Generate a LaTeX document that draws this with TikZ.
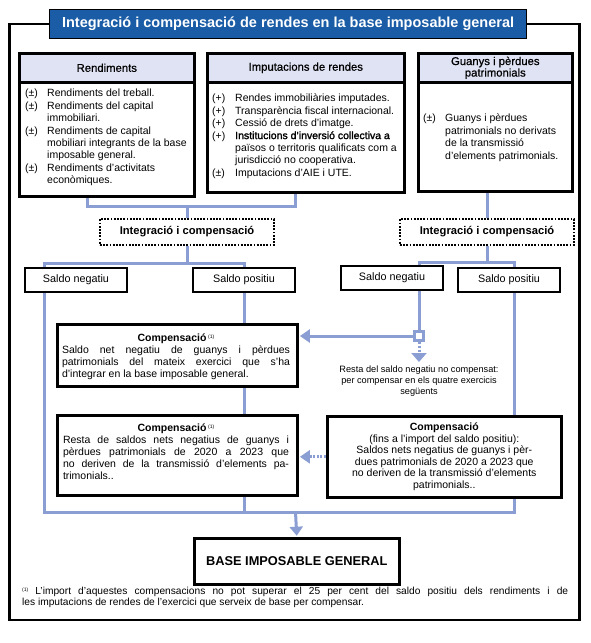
\documentclass[tikz,border=0pt]{standalone}
\usepackage{fontspec}
\setmainfont{Liberation Sans}
\newfontfamily\fbold[FakeBold=1.6]{Liberation Sans}
\newfontfamily\fmed[FakeBold=0.7]{Liberation Sans}
\usetikzlibrary{arrows.meta,backgrounds}
\definecolor{ttl}{HTML}{1A5CA6}
\definecolor{hdr}{HTML}{E0E3F4}
\definecolor{cn}{HTML}{8A9ED4}
\newcommand\bodyf{\fontsize{10.5}{12.4}\selectfont}
\newcommand\fnm{\raisebox{3.5pt}{\fontsize{5}{5}\selectfont(1)}}
\tikzset{
  box/.style={draw=black, line width=2.6pt, fill=white, inner sep=0pt, anchor=north west},
  hdrbox/.style={box, fill=hdr},
  dbox/.style={draw=black, line width=1.8pt, dash pattern=on 1.8pt off 1.4pt, fill=white,
    inner sep=0pt, minimum width=174pt, minimum height=26pt, font=\bfseries\fontsize{11.2}{13}\selectfont},
  sbox/.style={box, anchor=center, minimum width=102pt, minimum height=24pt, font=\fontsize{10.8}{13}\selectfont},
  conn/.style={draw=cn, line width=3pt},
  tip/.style={-{Triangle[width=13pt,length=10pt]}, shorten >=1.3pt},
  txt/.style={inner sep=0pt, font=\bodyf},
  hdrtxt/.style={inner sep=0pt, font=\fmed\fontsize{11.3}{10}\selectfont},
}
\begin{document}
\begin{tikzpicture}[x=1pt,y=-1pt]
\useasboundingbox (0,0) rectangle (590,643);

% title
\node[fill=ttl, draw=black, line width=1.2pt, minimum width=477pt, minimum height=29pt,
  anchor=north west, text=white, inner sep=0pt, font=\bfseries\fontsize{14.5}{16}\selectfont]
  (title) at (49,9) {Integració i compensació de rendes en la base imposable general};

% top three boxes
\node[box, minimum width=175pt, minimum height=143pt] (rend) at (18,52) {};
\node[hdrbox, minimum width=175pt, minimum height=29pt] (rendh) at (18,52) {};
\node[hdrtxt] (rendht) at (rendh.center) {Rendiments};
\node[txt, anchor=north west] (rendt) at (25,88) {\begin{tabular}{@{}p{22pt}@{}l@{}}
(±)&Rendiments del treball.\\
(±)&Rendiments del capital\\
&immobiliari.\\
(±)&Rendiments de capital\\
&mobiliari integrants de la base\\
&imposable general.\\
(±)&Rendiments d’activitats\\
&econòmiques.
\end{tabular}};

\node[box, minimum width=197pt, minimum height=139pt] (imp) at (206,52) {};
\node[hdrbox, minimum width=197pt, minimum height=29pt] (imph) at (206,52) {};
\node[hdrtxt] (impht) at (imph.center) {Imputacions de rendes};
\node[txt, anchor=north west] (impt) at (212,93) {\begin{tabular}{@{}p{23pt}@{}l@{}}
(+)&Rendes immobiliàries imputades.\\
(+)&Transparència fiscal internacional.\\
(+)&Cessió de drets d’imatge.\\
(+)&{\fbold Institucions d’inversió collectiva a}\\
&països o territoris qualificats com a\\
&jurisdicció no cooperativa.\\
(±)&Imputacions d’AIE i UTE.
\end{tabular}};

\node[box, minimum width=154pt, minimum height=138pt] (gp) at (417,52) {};
\node[hdrbox, minimum width=154pt, minimum height=29pt] (gph) at (417,52) {};
\node[hdrtxt, align=center, font=\fmed\fontsize{11.3}{9.5}\selectfont] (gpht) at (gph.center) {Guanys i pèrdues\\patrimonials};
\node[txt, anchor=north west] (gpt) at (423,113) {\begin{tabular}{@{}p{22pt}@{}l@{}}
(±)&Guanys i pèrdues\\
&patrimonials no derivats\\
&de la transmissió\\
&d’elements patrimonials.
\end{tabular}};

% integration boxes
\node[dbox] (ic1) at (187,232) {Integració i compensació};
\node[dbox] (ic2) at (487,232) {Integració i compensació};

% saldo boxes
\node[sbox] (sn1) at (76,280) {Saldo negatiu};
\node[sbox] (sp1) at (244,280) {Saldo positiu};
\node[sbox] (sn2) at (392,278) {Saldo negatiu};
\node[sbox] (sp2) at (509,280) {Saldo positiu};

% compensation boxes
\node[box, minimum width=240pt, minimum height=62pt] (c1) at (56,323) {};
\node[txt, anchor=north, text width=228pt, align=justify, font=\fontsize{10.5}{12}\selectfont] (c1t) at (176,334)
  {{\centering\textbf{Compensació}\,\fnm\par}
  Saldo net negatiu de guanys i pèrdues\linebreak
  patrimonials del mateix exercici que s’ha\linebreak
  d’integrar en la base imposable general.};

\node[box, minimum width=240pt, minimum height=80pt] (c2) at (56,414) {};
\node[txt, anchor=north, text width=226pt, align=justify, font=\fontsize{10.5}{12}\selectfont] (c2t) at (176,424)
  {{\centering\textbf{Compensació}\,\fnm\par}
  Resta de saldos nets negatius de guanys i\linebreak
  pèrdues patrimonials de 2020 a 2023 que\linebreak
  no deriven de la transmissió d’elements pa-\linebreak
  trimonials..};

\node[box, minimum width=234pt, minimum height=81pt] (c3) at (326,415) {};
\node[txt, align=center, font=\fontsize{10.5}{11.6}\selectfont] (c3t) at (c3.center)
  {\textbf{Compensació}\\(fins a l’import del saldo positiu):\\Saldos nets negatius de guanys i pèr-\\dues patrimonials de 2020 a 2023 que\\no deriven de la transmissió d’elements\\patrimonials..};

% small square and note
\node[draw=cn, line width=2.4pt, fill=white, minimum size=9pt, inner sep=0pt] (sq) at (419,336) {};
\coordinate (tr) at (419,362);
\node[txt, align=center, font=\fontsize{9.2}{10.8}\selectfont, anchor=north] (note) at (419,366)
  {Resta del saldo negatiu no compensat:\\per compensar en els quatre exercicis\\següents};

% base
\node[box, minimum width=205pt, minimum height=46pt, font=\bfseries\fontsize{12.8}{14}\selectfont] (base) at (193,537) {BASE IMPOSABLE GENERAL};

% footnote
\node[txt, anchor=north west, text width=546pt, align=justify, font=\fontsize{10.2}{11.2}\selectfont] (fn) at (22,587)
  {\fnm\ L’import d’aquestes compensacions no pot superar el 25 per cent del saldo positiu dels rendiments i de\linebreak
  les imputacions de rendes de l’exercici que serveix de base per compensar.};

\begin{pgfonlayer}{background}
\fill[white] (0,0) rectangle (590,643);
\draw[line width=2.5pt] (9.5,24) rectangle (579.5,620);
\coordinate (ja) at (87,206);
\coordinate (jb) at (295,206);
\coordinate (jm) at (187,206);
\draw[conn] (rend.south -| ja) -- (ja) -- (jb) -- (imp.south -| jb);
\draw[conn] (jm) -- (ic1.north);
\draw[conn] (gp.south -| ic2.north) -- (ic2.north);
\coordinate (jl) at (187,263);
\coordinate (la) at (44,263);
\coordinate (lb) at (244,263);
\draw[conn] (ic1.south) -- (jl);
\draw[conn] (sn1.north -| la) -- (la) -- (lb) -- (sp1.north -| lb);
\coordinate (ra) at (419,262);
\coordinate (rb) at (514,262);
\draw[conn] (ic2.south) -- (ic2.south |- ra);
\draw[conn] (sn2.north -| ra) -- (ra) -- (rb) -- (sp2.north -| rb);
\coordinate (ba) at (44,512);
\coordinate (bb) at (244,512);
\coordinate (bc) at (514,512);
\coordinate (bd) at (295.5,512);
\draw[conn] (sn1.south -| ba) -- (ba) -- (bc) -- (sp2.south -| bc);
\draw[conn] (sp1.south -| bb) -- (bb);
\draw[conn] (sn2.south -| ra) -- (sq.north);
\draw[conn, tip] (sq.west) -- (sq.west -| c1.east);
\draw[conn, dash pattern=on 2pt off 2pt, -{Triangle[width=15pt,length=9pt]}] (sq.south) -- (tr);
\draw[conn, dash pattern=on 2pt off 1.6pt, tip] (c3.west) -- (c3.west -| c2.east);
\draw[conn, -{Triangle[width=13pt,length=9pt]}, shorten >=1.3pt] (bd) -- (base.north);
\end{pgfonlayer}
\end{tikzpicture}
\end{document}
